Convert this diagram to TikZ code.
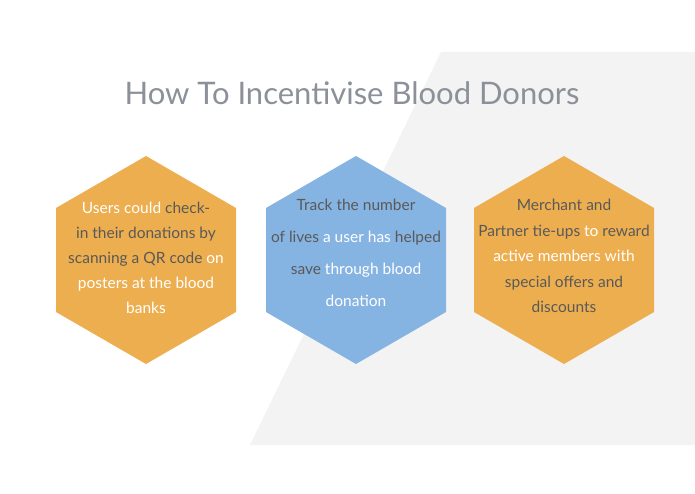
\documentclass[tikz,border=0pt]{standalone}
\usepackage{fontspec}
\setmainfont{Lato}
\definecolor{org}{HTML}{EDAE4F}
\definecolor{blu}{HTML}{86B4E2}
\definecolor{dk}{HTML}{595959}
\definecolor{ttl}{HTML}{8C9099}
\definecolor{bg}{HTML}{F3F3F3}
\tikzset{
  hex/.style={fill=#1, draw=none},
  txt/.style={align=center, text=dk, font=\fontsize{15.5}{#1}\selectfont, inner sep=0pt},
}
\newcommand{\wh}[1]{\textcolor{white}{#1}}
\begin{document}
\begin{tikzpicture}[x=1pt,y=-1pt]
\useasboundingbox (0,0) rectangle (695,494);
\fill[white] (0,0) rectangle (695,494);
\fill[bg] (441,52) -- (695,52) -- (695,445) -- (250,445) -- cycle;
\node (title) at (352,93) {\fontsize{31}{33}\selectfont\color{ttl}How To Incentivise Blood Donors};
\foreach \cx/\c/\n in {146/org/a, 356/blu/b, 564/org/c}{
  \fill[hex=\c] (\cx,156) -- (\cx+90,208) -- (\cx+90,312) -- (\cx,364) -- (\cx-90,312) -- (\cx-90,208) -- cycle;
}
\node[txt=25, anchor=north] (ta) at (146,202) {\wh{Users could} check-\\in their donations by\\scanning a QR code \wh{on}\\\wh{posters at the blood}\\\wh{banks}};
\node[txt=32, anchor=north] (tb) at (356,199) {Track the number\\of lives \wh{a user has} helped\\save \wh{through blood}\\\wh{donation}};
\node[txt=25.5, anchor=north] (tc) at (564,199) {Merchant and\\Partner tie-ups \wh{to} reward\\\wh{active members with}\\special offers and\\discounts};
\end{tikzpicture}
\end{document}
